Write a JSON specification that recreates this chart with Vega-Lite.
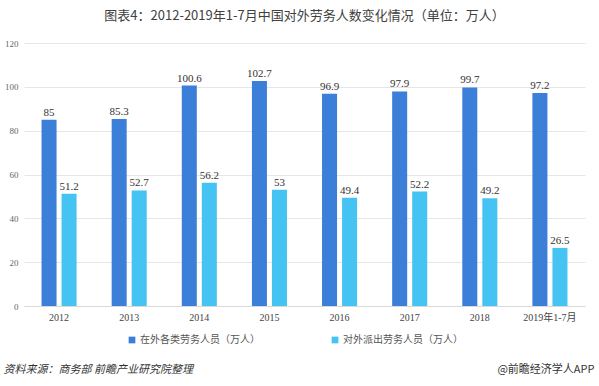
{
  "$schema": "https://vega.github.io/schema/vega-lite/v6.json",
  "width": 561,
  "height": 263,
  "autosize": {"type": "none"},
  "padding": {"left": 24, "top": 43, "right": 14, "bottom": 80},
  "background": "#ffffff",
  "title": {
    "text": "图表4：2012-2019年1-7月中国对外劳务人数变化情况（单位：万人）",
    "font": "Noto Sans CJK SC",
    "fontSize": 13,
    "fontWeight": "normal",
    "color": "#404040",
    "anchor": "middle",
    "frame": "group",
    "offset": 16
  },
  "data": {
    "values": [
      {"year": "2012", "series": "在外各类劳务人员（万人）", "value": 85},
      {"year": "2012", "series": "对外派出劳务人员（万人）", "value": 51.2},
      {"year": "2013", "series": "在外各类劳务人员（万人）", "value": 85.3},
      {"year": "2013", "series": "对外派出劳务人员（万人）", "value": 52.7},
      {"year": "2014", "series": "在外各类劳务人员（万人）", "value": 100.6},
      {"year": "2014", "series": "对外派出劳务人员（万人）", "value": 56.2},
      {"year": "2015", "series": "在外各类劳务人员（万人）", "value": 102.7},
      {"year": "2015", "series": "对外派出劳务人员（万人）", "value": 53},
      {"year": "2016", "series": "在外各类劳务人员（万人）", "value": 96.9},
      {"year": "2016", "series": "对外派出劳务人员（万人）", "value": 49.4},
      {"year": "2017", "series": "在外各类劳务人员（万人）", "value": 97.9},
      {"year": "2017", "series": "对外派出劳务人员（万人）", "value": 52.2},
      {"year": "2018", "series": "在外各类劳务人员（万人）", "value": 99.7},
      {"year": "2018", "series": "对外派出劳务人员（万人）", "value": 49.2},
      {"year": "2019年1-7月", "series": "在外各类劳务人员（万人）", "value": 97.2},
      {"year": "2019年1-7月", "series": "对外派出劳务人员（万人）", "value": 26.5}
    ]
  },
  "encoding": {
    "x": {
      "field": "year",
      "type": "nominal",
      "sort": null,
      "scale": {"paddingInner": 0.5, "paddingOuter": 0.25},
      "axis": {
        "title": "资料来源：商务部 前瞻产业研究院整理",
        "titleFont": "Noto Sans CJK SC",
        "titleFontSize": 11,
        "titleFontStyle": "italic",
        "titleFontWeight": "normal",
        "titleColor": "#333333",
        "titleAnchor": "start",
        "titleAlign": "left",
        "titleBaseline": "alphabetic",
        "titleX": -21,
        "titleY": 66,
        "labelAngle": 0,
        "labelFont": "Liberation Serif, Noto Sans CJK SC",
        "labelFontSize": 10,
        "labelColor": "#444444",
        "labelPadding": 6,
        "domain": true,
        "domainColor": "#d9d9d9",
        "ticks": false
      }
    },
    "xOffset": {
      "field": "series",
      "type": "nominal",
      "sort": null,
      "scale": {"paddingInner": 0.25, "paddingOuter": 0}
    },
    "y": {
      "field": "value",
      "type": "quantitative",
      "scale": {"domain": [0, 120]},
      "axis": {
        "values": [0, 20, 40, 60, 80, 100, 120],
        "title": "@前瞻经济学人APP",
        "titleFont": "Noto Sans CJK SC",
        "titleFontSize": 11,
        "titleFontWeight": "normal",
        "titleColor": "#333333",
        "titleAngle": 0,
        "titleAlign": "right",
        "titleBaseline": "alphabetic",
        "titleX": 570,
        "titleY": 329,
        "labelFont": "Liberation Serif",
        "labelFontSize": 9,
        "labelColor": "#666666",
        "labelPadding": 6,
        "domain": false,
        "ticks": false,
        "grid": true,
        "gridColor": "#e6e6e6"
      }
    }
  },
  "layer": [
    {
      "mark": {"type": "bar"},
      "encoding": {
        "color": {
          "field": "series",
          "type": "nominal",
          "sort": null,
          "scale": {"range": ["#3b7fd9", "#45c3f2"]},
          "legend": {
            "title": null,
            "orient": "none",
            "direction": "horizontal",
            "legendX": 103,
            "legendY": 292,
            "symbolType": "square",
            "symbolSize": 45,
            "symbolStrokeWidth": 0,
            "labelFont": "Noto Sans CJK SC",
            "labelFontSize": 10,
            "labelColor": "#555555",
            "columnPadding": 70,
            "labelOffset": 3
          }
        }
      }
    },
    {
      "mark": {
        "type": "text",
        "dy": -7,
        "font": "Liberation Serif",
        "fontSize": 11,
        "color": "#333333"
      },
      "encoding": {
        "text": {"field": "value", "type": "quantitative"}
      }
    }
  ],
  "config": {
    "view": {"stroke": null}
  }
}
